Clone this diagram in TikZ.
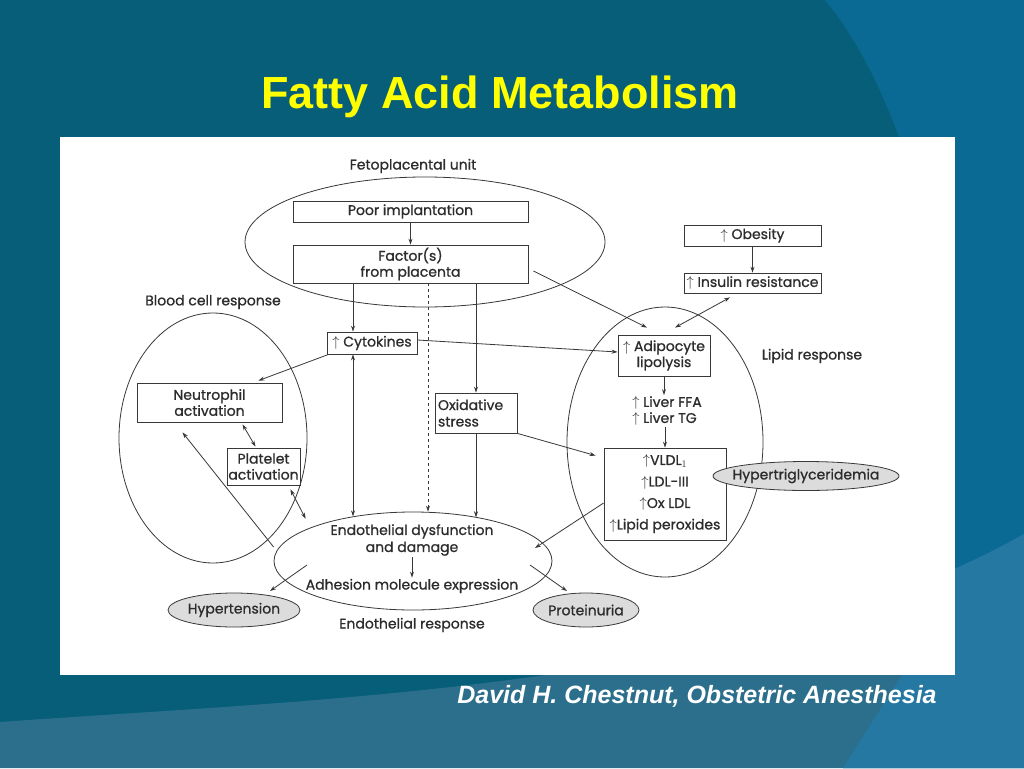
\documentclass[tikz,border=0pt]{standalone}
\usepackage{fontspec}
\setmainfont{Poppins}
\newfontfamily\arialfont{Liberation Sans}
\newfontfamily\dfont[FakeBold=0.9]{Poppins}
\usetikzlibrary{shapes.geometric,arrows.meta,calc}
\definecolor{bgmain}{HTML}{065E79}
\definecolor{bgright}{HTML}{0B6A94}
\definecolor{bgband}{HTML}{2B6F8C}
\definecolor{bgboth}{HTML}{2478A2}
\definecolor{linec}{HTML}{383838}
\definecolor{txtc}{HTML}{2C2C2C}
\definecolor{ellfill}{HTML}{DCDCDC}
\definecolor{titley}{HTML}{FFFF00}
\def\myrightpath{(825,0) .. controls (875,60) and (915,160) .. (945,300) -- (955,600) -- (902,675) -- (843,768) -- (1024,768) -- (1024,0) -- cycle}
\def\mybandpath{(0,722) .. controls (300,700) and (750,690) .. (1024,534) -- (1024,768) -- (0,768) -- cycle}
\begin{document}
\begin{tikzpicture}[x=1pt,y=-1pt,
  dtext/.style={font=\dfont\fontsize{14}{17}\selectfont, text=txtc},
  bx/.style={dtext, draw=linec, line width=0.8pt, inner sep=1pt, align=center},
  ell/.style={ellipse, draw=linec, line width=0.8pt, inner sep=0pt},
  fell/.style={ell, fill=ellfill},
  lbl/.style={dtext, inner sep=1pt},
  arr/.style={draw=linec, line width=0.8pt, -{Stealth[length=6pt,width=4pt]}},
  dbl/.style={draw=linec, line width=0.8pt, {Stealth[length=6pt,width=4pt]}-{Stealth[length=6pt,width=4pt]}}
]
% background
\useasboundingbox (0,0) rectangle (1024,768);
\fill[bgmain] (0,0) rectangle (1024,768);
\fill[bgright] \myrightpath;
\fill[bgband] \mybandpath;
\begin{scope}
  \clip \myrightpath;
  \fill[bgboth] \mybandpath;
\end{scope}
\fill[white] (60,137) rectangle (955,675);

% title and footer
\node[anchor=base, text=titley, font=\arialfont\bfseries\fontsize{45}{50}\selectfont] (title) at (500,108) {Fatty Acid Metabolism};
\node[anchor=base, text=white, font=\arialfont\bfseries\itshape\fontsize{25}{28}\selectfont] (footer) at (697,703) {David H. Chestnut, Obstetric Anesthesia};

% region ellipses
\node[ell, minimum width=360, minimum height=130] (feto) at (425,242) {};
\node[ell, minimum width=188, minimum height=250] (blood) at (213,438) {};
\node[ell, minimum width=196, minimum height=270] (lipid) at (665,442) {};
\node[ell, minimum width=278, minimum height=98] (endo) at (413,561) {};

% region labels
\node[lbl] (fetolbl) at (413,166) {Fetoplacental unit};
\node[lbl] (bloodlbl) at (213,302) {Blood cell response};
\node[lbl] (lipidlbl) at (812,356) {Lipid response};
\node[lbl] (endolbl) at (412,625) {Endothelial response};

% boxes
\node[bx, minimum width=235, minimum height=21] (poor) at (410.5,211.5) {Poor implantation};
\node[bx, minimum width=235, minimum height=38] (factor) at (410.5,264) {Factor(s)\\[-1pt]from placenta};
\node[bx, minimum width=90, minimum height=22] (cyto) at (372,343) {$\uparrow$ Cytokines};
\node[bx, minimum width=82, minimum height=40, align=left, text width=76] (oxid) at (476,413) {Oxidative\\[-0.5pt]stress};
\node[bx, minimum width=145, minimum height=39] (neut) at (209.5,402.5) {Neutrophil\\[-1pt]activation};
\node[bx, minimum width=73, minimum height=37] (plat) at (263.5,466.5) {Platelet\\[-1pt]activation};
\node[bx, minimum width=137, minimum height=21] (obes) at (752.5,235.5) {$\uparrow$ Obesity};
\node[bx, minimum width=137, minimum height=20] (insul) at (752.5,283) {$\uparrow$ Insulin resistance};
\node[bx, minimum width=92, minimum height=41] (adipo) at (664,355.5) {$\uparrow$ Adipocyte\\[-1pt]lipolysis};
\node[lbl, align=left] (liver) at (667,411) {$\uparrow$ Liver FFA\\[-1pt]$\uparrow$ Liver TG};
\node[bx, minimum width=122, minimum height=92] (vldl) at (665,494) {$\uparrow$VLDL$_1$\\[4.5pt]$\uparrow$LDL-III\\[4.5pt]$\uparrow$Ox LDL\\[4.5pt]$\uparrow$Lipid peroxides};

% endothelial texts
\node[lbl, align=center] (edys) at (412,540) {Endothelial dysfunction\\[0pt]and damage};
\node[lbl] (adh) at (412,586) {Adhesion molecule expression};

% outcome ellipses
\node[fell, minimum width=132, minimum height=34] (hyper) at (234,610) {};
\node[lbl] (hypertxt) at (hyper.center) {Hypertension};
\node[fell, minimum width=106, minimum height=34] (prot) at (586,610) {};
\node[lbl] (prottxt) at (prot.center) {Proteinuria};
\node[fell, minimum width=186, minimum height=29] (htg) at (806,476) {};
\node[lbl] (htgtxt) at (htg.center) {Hypertriglyceridemia};

% connectors
\draw[arr] (poor.south) -- (factor.north);
\draw[arr] ([xshift=-19]cyto.north |- factor.south) -- ([xshift=-19]cyto.north);
\draw[dbl] ([xshift=-19]cyto.south) -- ([xshift=-19]cyto.south |- endo.143.6);
\draw[arr, dashed] ([xshift=17.5]factor.south) -- ([xshift=17.5]factor.south |- endo.north);
\draw[arr] (factor.south -| oxid.north) -- (oxid.north);
\draw[arr] (oxid.south) -- (oxid.south |- endo.34.7);
\draw[arr] ([yshift=3]cyto.east) -- ([yshift=3.5]adipo.west);
\draw[arr] ([xshift=2]cyto.south west) -- ([xshift=-24,yshift=2]neut.north east);
\draw[dbl] ([xshift=33,yshift=-2]neut.south) -- ([xshift=-8,yshift=1]plat.north);
\draw[dbl, shorten >=10pt] ([xshift=-10,yshift=-4]plat.south east) -- (endo.162);
\draw[arr] ([yshift=14]endo.west) -- ([xshift=-27,yshift=-10]neut.south);
\draw[arr] (edys.south) -- (adh.north);
\draw[arr] ([xshift=-106,yshift=-4]endo.center) -- ([xshift=36,yshift=19]hyper.center);
\draw[arr] ([xshift=117,yshift=-4]endo.center) -- ([xshift=-19,yshift=19]prot.center);
\draw[arr] ([yshift=-9]vldl.west) -- ([xshift=122,yshift=13]endo.center);
\draw[arr] (oxid.south east) -- ([xshift=-8,yshift=-8]vldl.north west);
\draw[arr] ([xshift=5,yshift=-7]factor.east) -- ([xshift=-17,yshift=7]adipo.north);
\draw[arr] (obes.south) -- (insul.north);
\draw[dbl] ([xshift=-22.5,yshift=-4]insul.south) -- ([xshift=11,yshift=7]adipo.north);
\draw[arr] (adipo.south) -- (adipo.south |- liver.north);
\draw[arr] (vldl.north |- liver.south) -- (vldl.north);
\end{tikzpicture}
\end{document}
